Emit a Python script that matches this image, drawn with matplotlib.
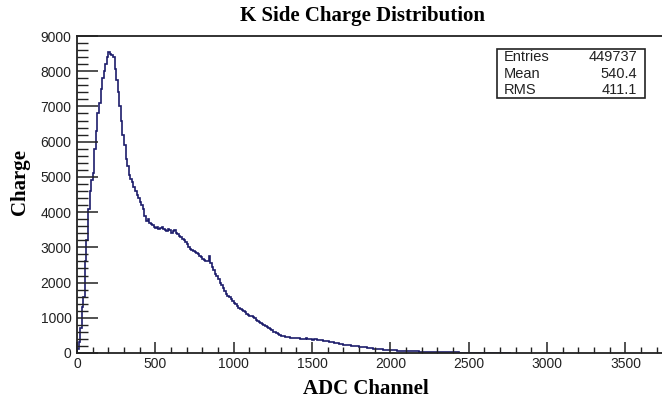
import numpy as np
import matplotlib
matplotlib.use("Agg")
import matplotlib.pyplot as plt
from matplotlib.patches import Rectangle

# ---- data ----
bin_width = 10
counts = [
    # 0 - 490
    100, 300, 700, 1300, 1600, 2600, 3200, 4100, 4600, 4900,
    5100, 5800, 6300, 6800, 7100, 7500, 7800, 8000, 8200, 8400,
    8550, 8500, 8450, 8400, 8050, 7750, 7400, 7000, 6600, 6200,
    5900, 5500, 5300, 5050, 4950, 4850, 4700, 4600, 4500, 4400,
    4300, 4200, 4100, 3900, 3750, 3800, 3700, 3650, 3620, 3580,
    # 500 - 990
    3550, 3570, 3520, 3540, 3580, 3520, 3500, 3470, 3520, 3480,
    3400, 3450, 3500, 3420, 3380, 3330, 3280, 3250, 3200, 3150,
    3100, 3000, 2950, 2920, 2900, 2880, 2850, 2800, 2760, 2720,
    2680, 2640, 2600, 2620, 2750, 2550, 2450, 2350, 2250, 2180,
    2100, 2000, 1920, 1850, 1750, 1680, 1620, 1580, 1530, 1480,
    # 1000 - 1490
    1420, 1380, 1330, 1290, 1250, 1230, 1200, 1160, 1120, 1090,
    1060, 1040, 1020, 990, 950, 920, 880, 850, 820, 790,
    760, 730, 700, 670, 640, 610, 590, 560, 530, 510,
    490, 480, 470, 460, 450, 445, 440, 430, 420, 425,
    430, 420, 410, 405, 400, 395, 420, 410, 390, 385,
    # 1500 - 1990
    380, 385, 390, 380, 370, 365, 360, 350, 340, 335,
    330, 320, 310, 300, 290, 280, 270, 265, 260, 250,
    240, 235, 230, 225, 220, 210, 200, 195, 190, 185,
    180, 175, 170, 165, 160, 155, 150, 140, 130, 125,
    120, 115, 110, 105, 100, 98, 95, 92, 90, 85,
    # 2000 - 2490
    80, 78, 75, 72, 70, 68, 65, 62, 60, 58,
    55, 52, 50, 49, 48, 46, 45, 44, 42, 41,
    40, 39, 38, 36, 35, 34, 32, 31, 30, 29,
    28, 27, 26, 25, 24, 23, 22, 21, 20, 19,
    18, 17, 16, 15, 14, 13, 12, 12, 11, 11,
    # 2500 - 2760
    10, 10, 9, 9, 8, 8, 7, 7, 6, 6,
    5, 5, 4, 4, 3, 3, 2, 2, 1, 1,
    0, 0, 0, 0, 0, 0, 0,
]
stats_labels = ["Entries", "Mean", "RMS"]
stats_values = ["449737", "540.4", "411.1"]
title = "K Side Charge Distribution"
xlabel = "ADC Channel"
ylabel = "Charge"
x_major = [0, 500, 1000, 1500, 2000, 2500, 3000, 3500]
y_major = [0, 1000, 2000, 3000, 4000, 5000, 6000, 7000, 8000, 9000]

edges = np.arange(len(counts) + 1) * bin_width

W, H = 662, 404
fig = plt.figure(figsize=(W / 100, H / 100), dpi=100)
fig.patch.set_facecolor("white")

ax_l, ax_r, ax_t, ax_b = 77, 662, 36, 353
ax = fig.add_axes([ax_l / W, 1 - ax_b / H, (ax_r - ax_l) / W, (ax_b - ax_t) / H])

ax.stairs(counts, edges, color="#1c1c6b", linewidth=1.2)

ax.set_xlim(0, (ax_r - ax_l) / 0.1567)
ax.set_ylim(0, 9000)

ax.set_xticks(x_major)
ax.set_xticks(np.arange(0, 3701, 100), minor=True)
ax.set_yticks(y_major)
ax.set_yticks(np.arange(0, 9001, 200), minor=True)

ax.tick_params(axis="x", which="major", direction="in", length=8, width=1.1,
               labelsize=10, pad=3, colors="#222222")
ax.tick_params(axis="x", which="minor", direction="in", length=4, width=1.0, colors="#222222")
ax.tick_params(axis="y", which="major", direction="in", length=15, width=1.1,
               labelsize=10, pad=4, colors="#222222")
ax.tick_params(axis="y", which="minor", direction="in", length=8, width=1.0, colors="#222222")
for lab in ax.get_xticklabels() + ax.get_yticklabels():
    lab.set_fontfamily("Liberation Sans")

ax.spines["right"].set_visible(False)
for s in ["left", "bottom", "top"]:
    ax.spines[s].set_color("#222222")
    ax.spines[s].set_linewidth(1.3)

fig.text(363 / W, 1 - 16 / H, title, ha="center", va="center",
         fontfamily="Liberation Serif", fontweight="bold", fontsize=15)
fig.text(366 / W, 1 - 389 / H, xlabel, ha="center", va="center",
         fontfamily="Liberation Serif", fontweight="bold", fontsize=15)
fig.text(20 / W, 1 - 182 / H, ylabel, ha="center", va="center", rotation=90,
         fontfamily="Liberation Serif", fontweight="bold", fontsize=15)

# stats box
bx0, bx1, by0, by1 = 497, 645, 49, 98
fig.patches.append(Rectangle((bx0 / W, 1 - by1 / H), (bx1 - bx0) / W, (by1 - by0) / H,
                             transform=fig.transFigure, fill=True, facecolor="white",
                             edgecolor="#222222", linewidth=1.2))
row_h = (by1 - by0) / 3
for i, (lab, val) in enumerate(zip(stats_labels, stats_values)):
    yc = by0 + row_h * (i + 0.5)
    fig.text(504 / W, 1 - yc / H, lab, ha="left", va="center",
             fontfamily="Liberation Sans", fontsize=10.5, color="#222222")
    fig.text(637 / W, 1 - yc / H, val, ha="right", va="center",
             fontfamily="Liberation Sans", fontsize=10.5, color="#222222")

fig.savefig("out.png", dpi=100)
